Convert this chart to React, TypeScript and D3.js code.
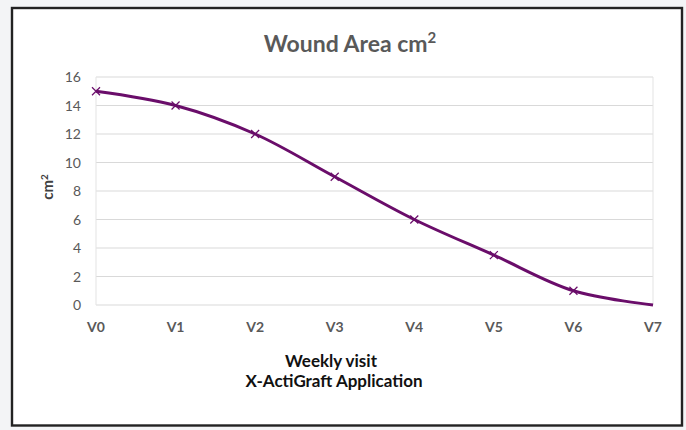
import * as d3 from "d3";

const visits = ["V0", "V1", "V2", "V3", "V4", "V5", "V6", "V7"];
const woundArea = [15, 14, 12, 9, 6, 3.5, 1, 0];
const markerShown = [true, true, true, true, true, true, true, false];
const yTicks = [0, 2, 4, 6, 8, 10, 12, 14, 16];

const W = 686;
const H = 430;
const plot = { left: 96, right: 653, top: 77, bottom: 305 };
const FONT = "Lato, Carlito, 'Open Sans', sans-serif";
const LINE = "#6a0d6a";

export default function App() {
  const x = d3.scalePoint<string>().domain(visits).range([plot.left, plot.right]).padding(0);
  const y = d3.scaleLinear().domain([0, 16]).range([plot.bottom, plot.top]);

  const line = d3
    .line<number>()
    .x((_, i) => x(visits[i]) as number)
    .y((d) => y(d))
    .curve(d3.curveCatmullRom.alpha(0.5));

  return (
    <div style={{ position: "absolute", left: 0, top: 0 }}>
      <svg width={W} height={H} style={{ display: "block" }}>
        <rect x={0} y={0} width={W} height={H} fill="#f3f4f6" />
        <rect x={12} y={8} width={670} height={417.5} fill="#fff" stroke="#222" strokeWidth={2.4} />

        <text x={350} y={52} textAnchor="middle" fontFamily={FONT} fontWeight="bold" fontSize={23} fill="#595959">
          Wound Area cm<tspan fontSize={15} dy={-9}>2</tspan>
        </text>

        {yTicks.map((t) => (
          <g key={t}>
            <line x1={plot.left} x2={plot.right} y1={y(t)} y2={y(t)} stroke="#d9d9d9" strokeWidth={1} />
            <text x={81} y={y(t) + 5} textAnchor="end" fontFamily={FONT} fontSize={14} fill="#595959">
              {t}
            </text>
          </g>
        ))}
        <line x1={plot.left} x2={plot.left} y1={plot.top} y2={plot.bottom} stroke="#e3e3e3" />
        <line x1={plot.right} x2={plot.right} y1={plot.top} y2={plot.bottom} stroke="#e3e3e3" />

        {visits.map((v) => (
          <text key={v} x={x(v)} y={332} textAnchor="middle" fontFamily={FONT} fontWeight="bold" fontSize={14} fill="#595959">
            {v}
          </text>
        ))}

        <text
          transform={`translate(53,187) rotate(-90)`}
          textAnchor="middle"
          fontFamily={FONT}
          fontWeight="bold"
          fontSize={15}
          fill="#404040"
        >
          cm<tspan fontSize={10} dy={-5}>2</tspan>
        </text>

        <text x={331} y={367} textAnchor="middle" fontFamily={FONT} fontWeight="bold" fontSize={17} fill="#111">
          Weekly visit
        </text>
        <text x={334} y={387} textAnchor="middle" fontFamily={FONT} fontWeight="bold" fontSize={17} fill="#111">
          X-ActiGraft Application
        </text>

        <path d={line(woundArea) ?? ""} fill="none" stroke={LINE} strokeWidth={3} strokeLinejoin="round" />

        {woundArea.map((d, i) =>
          markerShown[i] ? (
            <path
              key={i}
              d={`M${(x(visits[i]) as number) - 4},${y(d) - 4}l8,8M${(x(visits[i]) as number) - 4},${y(d) + 4}l8,-8`}
              stroke={LINE}
              strokeWidth={1.2}
            />
          ) : null
        )}
      </svg>
    </div>
  );
}
